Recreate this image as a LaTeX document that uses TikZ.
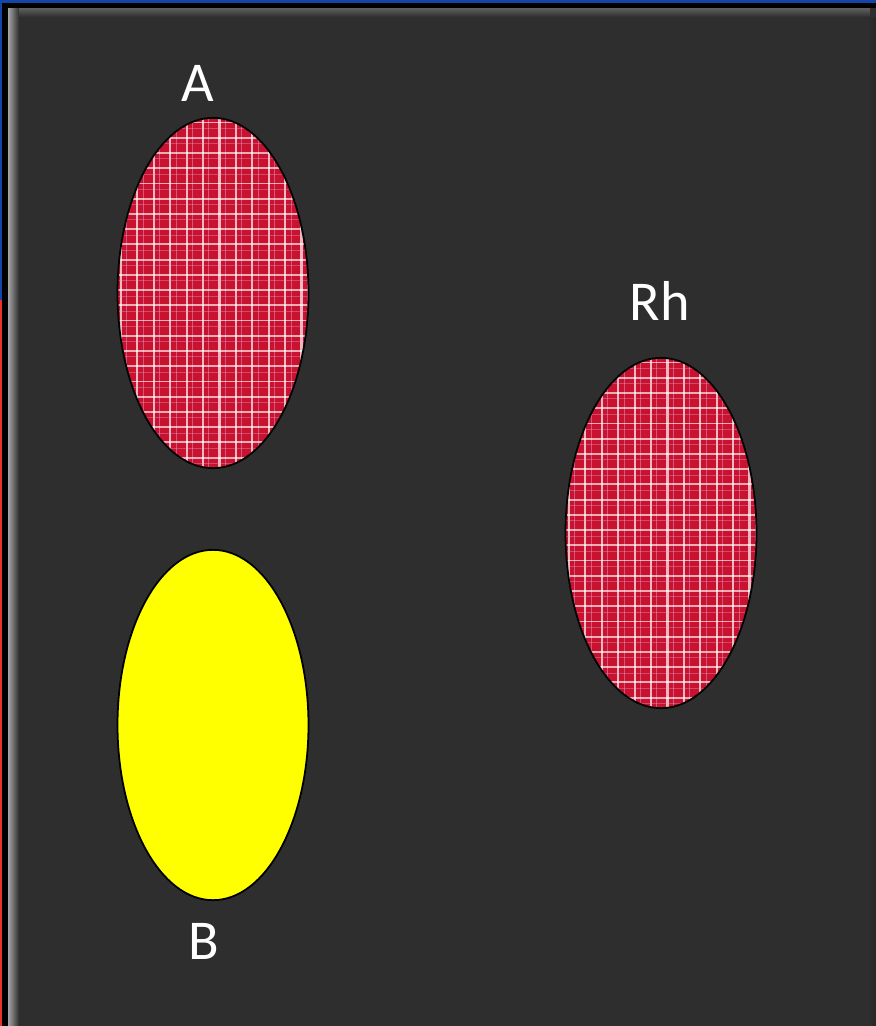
\documentclass[tikz,border=0pt]{standalone}
\usepackage{fontspec}
\setmainfont{Carlito}
\usetikzlibrary{shapes.geometric}

\definecolor{panelgray}{RGB}{46,46,46}
\definecolor{bevelgray}{RGB}{165,165,165}
\definecolor{plaidred}{RGB}{200,18,48}
\definecolor{plaidpink}{RGB}{230,170,215}
\definecolor{ovalyellow}{RGB}{255,255,0}
\definecolor{edgeblue}{RGB}{20,70,170}
\definecolor{edgered}{RGB}{235,50,40}

\tikzset{
    oval/.style={ellipse, draw=black, line width=1.5pt,
        minimum width=163pt, minimum height=299pt, inner sep=0pt},
    plaidoval/.style={oval, fill=plaidred, path picture={
        % fils blancs verticaux et horizontaux
        \foreach \i in {0,...,11} {
            \draw[white, opacity=.7, line width=1.8pt]
                ([xshift=\i*14pt+3pt]path picture bounding box.south west)
                -- ([xshift=\i*14pt+3pt]path picture bounding box.north west);
            \draw[plaidpink, opacity=.45, line width=.7pt]
                ([xshift=\i*14pt+8pt]path picture bounding box.south west)
                -- ([xshift=\i*14pt+8pt]path picture bounding box.north west);
        }
        \foreach \j in {0,...,23} {
            \draw[white, opacity=.65, line width=1.6pt]
                ([yshift=-\j*13pt-4pt]path picture bounding box.north west)
                -- ([yshift=-\j*13pt-4pt]path picture bounding box.north east);
            \draw[plaidpink, opacity=.35, line width=.7pt]
                ([yshift=-\j*13pt-9pt]path picture bounding box.north west)
                -- ([yshift=-\j*13pt-9pt]path picture bounding box.north east);
        }
    }},
    yellowoval/.style={oval, fill=ovalyellow},
    lbl/.style={text=white, font=\fontsize{48}{56}\selectfont, inner sep=0pt}
}

\begin{document}
\begin{tikzpicture}[x=0.03cm, y=-0.03cm]
    \useasboundingbox (0,0) rectangle (876,1026);

    % Cadre et fond
    \fill[black] (0,0) rectangle (876,1026);
    \fill[edgeblue] (0,0) rectangle (876,3);
    \fill[edgeblue] (0,0) rectangle (2,300);
    \fill[edgered] (0,300) rectangle (2,1026);
    \fill[panelgray] (8,8) rectangle (876,1026);
    \shade[left color=bevelgray, right color=panelgray] (8,8) rectangle (19,1026);
    \shade[top color=gray!75!black, bottom color=panelgray] (19,8) rectangle (870,17);
    \shade[left color=panelgray, right color=black!85] (868,17) rectangle (876,1026);

    % Ellipses
    \node[plaidoval] (ovalA) at (213,293) {};
    \node[yellowoval] (ovalB) at (213,725) {};
    \node[plaidoval] (ovalRh) at (661,533) {};

    % Etiquettes
    \node[lbl] (labA) at (198,83) {A};
    \node[lbl] (labB) at (204,941) {B};
    \node[lbl] (labRh) at (660,301) {Rh};
\end{tikzpicture}
\end{document}
